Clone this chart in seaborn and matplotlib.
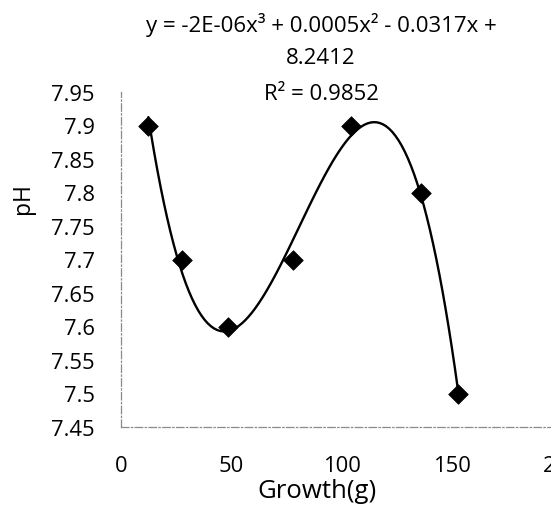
import numpy as np
import pandas as pd
import matplotlib
matplotlib.use("Agg")
import matplotlib.pyplot as plt
import seaborn as sns

# Measured growth and pH readings
growth = [12.4, 27.6, 48.3, 78.0, 104.2, 136.2, 152.8]
ph = [7.9, 7.7, 7.6, 7.7, 7.9, 7.8, 7.5]

# Trendline label as reported for the cubic fit
eq_lines = ["y = -2E-06x³ + 0.0005x² - 0.0317x +", "8.2412", "R² = 0.9852"]

x_ticks = [0, 50, 100, 150, 200]
y_ticks = [7.45, 7.5, 7.55, 7.6, 7.65, 7.7, 7.75, 7.8, 7.85, 7.9, 7.95]
y_ticklabels = ["7.45", "7.5", "7.55", "7.6", "7.65", "7.7", "7.75", "7.8", "7.85", "7.9", "7.95"]

df = pd.DataFrame({"Growth(g)": growth, "pH": ph})

sns.set_theme(style="white")
plt.rcParams["font.family"] = ["Open Sans", "DejaVu Sans"]

fig = plt.figure(figsize=(5.51, 5.10), dpi=100)
ax = fig.add_axes([121 / 551, 82 / 510, 441 / 551, 335 / 510])

sns.regplot(
    data=df, x="Growth(g)", y="pH", order=3, ci=None, ax=ax,
    marker="D",
    scatter_kws=dict(s=100, color="black", edgecolors="black", linewidths=0.5, alpha=1, zorder=3),
    line_kws=dict(color="black", lw=1.7, zorder=2),
)

ax.set_xlim(0, 200)
ax.set_ylim(7.45, 7.95)
ax.set_xticks(x_ticks)
ax.set_yticks(y_ticks)
ax.set_yticklabels(y_ticklabels)
ax.tick_params(axis="both", length=0, labelsize=15.8, colors="black")
ax.tick_params(axis="y", pad=19)
ax.tick_params(axis="x", pad=20)
for lbl in ax.get_xticklabels() + ax.get_yticklabels():
    lbl.set_fontweight("medium")

for side in ("top", "right"):
    ax.spines[side].set_visible(False)
for side in ("left", "bottom"):
    ax.spines[side].set_color("#8a8a8a")
    ax.spines[side].set_linewidth(0.9)
    ax.spines[side].set_linestyle((0, (6, 2, 1, 2)))

ax.set_xlabel("Growth(g)", fontsize=18.5, color="black", fontweight="medium")
ax.set_ylabel("pH", fontsize=16.5, color="black", fontweight="medium")
ax.xaxis.set_label_coords(0.444, -0.152)
ax.yaxis.set_label_coords(-0.195, 0.684)

for txt, ypx in zip(eq_lines, [25, 59, 94]):
    fig.text(321 / 551, 1 - ypx / 510, txt, ha="center", va="center",
             fontsize=16, color="black", fontweight="medium")

fig.savefig("out.png", dpi=100)
